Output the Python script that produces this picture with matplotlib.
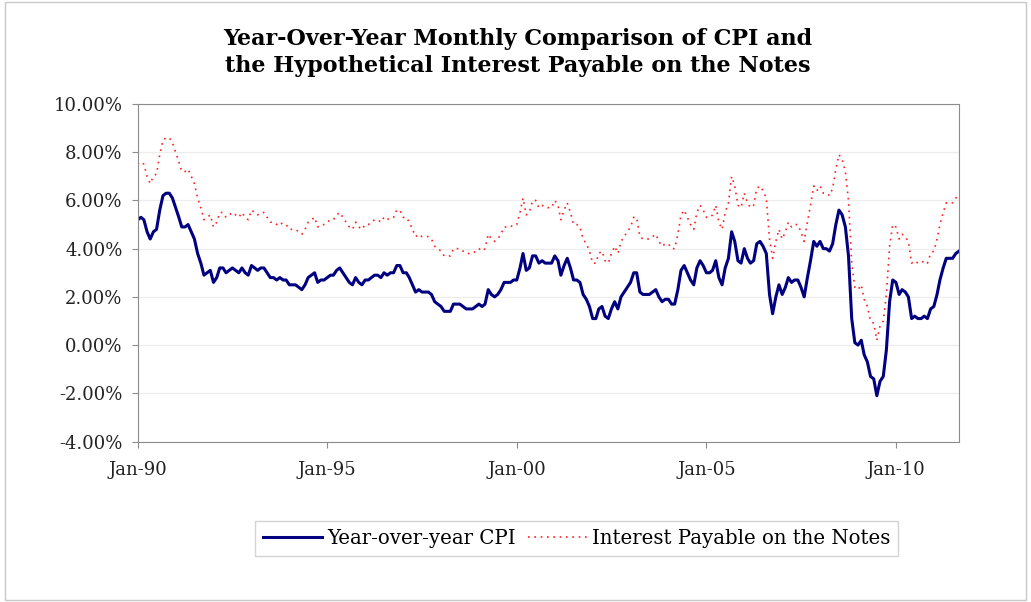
import pandas as pd
import matplotlib.pyplot as plt
from matplotlib.ticker import FuncFormatter, MultipleLocator
from matplotlib.patches import Rectangle

# year-over-year CPI (%), monthly from Jan 1990
cpi = [
    5.2, 5.3, 5.2, 4.7, 4.4, 4.7, 4.8, 5.6, 6.2, 6.3, 6.3, 6.1,   # 1990
    5.7, 5.3, 4.9, 4.9, 5.0, 4.7, 4.4, 3.8, 3.4, 2.9, 3.0, 3.1,   # 1991
    2.6, 2.8, 3.2, 3.2, 3.0, 3.1, 3.2, 3.1, 3.0, 3.2, 3.0, 2.9,   # 1992
    3.3, 3.2, 3.1, 3.2, 3.2, 3.0, 2.8, 2.8, 2.7, 2.8, 2.7, 2.7,   # 1993
    2.5, 2.5, 2.5, 2.4, 2.3, 2.5, 2.8, 2.9, 3.0, 2.6, 2.7, 2.7,   # 1994
    2.8, 2.9, 2.9, 3.1, 3.2, 3.0, 2.8, 2.6, 2.5, 2.8, 2.6, 2.5,   # 1995
    2.7, 2.7, 2.8, 2.9, 2.9, 2.8, 3.0, 2.9, 3.0, 3.0, 3.3, 3.3,   # 1996
    3.0, 3.0, 2.8, 2.5, 2.2, 2.3, 2.2, 2.2, 2.2, 2.1, 1.8, 1.7,   # 1997
    1.6, 1.4, 1.4, 1.4, 1.7, 1.7, 1.7, 1.6, 1.5, 1.5, 1.5, 1.6,   # 1998
    1.7, 1.6, 1.7, 2.3, 2.1, 2.0, 2.1, 2.3, 2.6, 2.6, 2.6, 2.7,   # 1999
    2.7, 3.2, 3.8, 3.1, 3.2, 3.7, 3.7, 3.4, 3.5, 3.4, 3.4, 3.4,   # 2000
    3.7, 3.5, 2.9, 3.3, 3.6, 3.2, 2.7, 2.7, 2.6, 2.1, 1.9, 1.6,   # 2001
    1.1, 1.1, 1.5, 1.6, 1.2, 1.1, 1.5, 1.8, 1.5, 2.0, 2.2, 2.4,   # 2002
    2.6, 3.0, 3.0, 2.2, 2.1, 2.1, 2.1, 2.2, 2.3, 2.0, 1.8, 1.9,   # 2003
    1.9, 1.7, 1.7, 2.3, 3.1, 3.3, 3.0, 2.7, 2.5, 3.2, 3.5, 3.3,   # 2004
    3.0, 3.0, 3.1, 3.5, 2.8, 2.5, 3.2, 3.6, 4.7, 4.3, 3.5, 3.4,   # 2005
    4.0, 3.6, 3.4, 3.5, 4.2, 4.3, 4.1, 3.8, 2.1, 1.3, 2.0, 2.5,   # 2006
    2.1, 2.4, 2.8, 2.6, 2.7, 2.7, 2.4, 2.0, 2.8, 3.5, 4.3, 4.1,   # 2007
    4.3, 4.0, 4.0, 3.9, 4.2, 5.0, 5.6, 5.4, 4.9, 3.7, 1.1, 0.1,   # 2008
    0.0, 0.2, -0.4, -0.7, -1.3, -1.4, -2.1, -1.5, -1.3, -0.2, 1.8, 2.7,  # 2009
    2.6, 2.1, 2.3, 2.2, 2.0, 1.1, 1.2, 1.1, 1.1, 1.2, 1.1, 1.5,   # 2010
    1.6, 2.1, 2.7, 3.2, 3.6, 3.6, 3.6, 3.8, 3.9,                  # 2011
]

# hypothetical interest payable on the notes (%)
notes = [
    7.5, 7.6, 7.5, 7.0, 6.7, 7.0, 7.1, 7.9, 8.5, 8.6, 8.6, 8.4,
    8.0, 7.6, 7.2, 7.2, 7.3, 7.0, 6.7, 6.1, 5.7, 5.2, 5.3, 5.4,
    4.9, 5.1, 5.5, 5.5, 5.3, 5.4, 5.5, 5.4, 5.3, 5.5, 5.3, 5.2,
    5.6, 5.5, 5.4, 5.5, 5.5, 5.3, 5.1, 5.1, 5.0, 5.1, 5.0, 5.0,
    4.8, 4.8, 4.8, 4.7, 4.6, 4.8, 5.1, 5.2, 5.3, 4.9, 5.0, 5.0,
    5.1, 5.2, 5.2, 5.4, 5.5, 5.3, 5.1, 4.9, 4.8, 5.1, 4.9, 4.8,
    5.0, 5.0, 5.1, 5.2, 5.2, 5.1, 5.3, 5.2, 5.3, 5.3, 5.6, 5.6,
    5.3, 5.3, 5.1, 4.8, 4.5, 4.6, 4.5, 4.5, 4.5, 4.4, 4.1, 4.0,
    3.9, 3.7, 3.7, 3.7, 4.0, 4.0, 4.0, 3.9, 3.8, 3.8, 3.8, 3.9,
    4.0, 3.9, 4.0, 4.6, 4.4, 4.3, 4.4, 4.6, 4.9, 4.9, 4.9, 5.0,
    5.0, 5.5, 6.1, 5.4, 5.5, 6.0, 6.0, 5.7, 5.8, 5.7, 5.7, 5.7,
    6.0, 5.8, 5.2, 5.6, 5.9, 5.5, 5.0, 5.0, 4.9, 4.4, 4.2, 3.9,
    3.4, 3.4, 3.8, 3.9, 3.5, 3.4, 3.8, 4.1, 3.8, 4.3, 4.5, 4.7,
    4.9, 5.3, 5.3, 4.5, 4.4, 4.4, 4.4, 4.5, 4.6, 4.3, 4.1, 4.2,
    4.2, 4.0, 4.0, 4.6, 5.4, 5.6, 5.3, 5.0, 4.8, 5.5, 5.8, 5.6,
    5.3, 5.3, 5.4, 5.8, 5.1, 4.8, 5.5, 5.9, 7.0, 6.6, 5.8, 5.7,
    6.3, 5.9, 5.7, 5.8, 6.5, 6.6, 6.4, 6.1, 4.4, 3.6, 4.3, 4.8,
    4.4, 4.7, 5.1, 4.9, 5.0, 5.0, 4.7, 4.3, 5.1, 5.8, 6.6, 6.4,
    6.6, 6.3, 6.3, 6.2, 6.5, 7.3, 7.9, 7.7, 7.2, 6.0, 3.4, 2.4,
    2.3, 2.5, 1.9, 1.6, 1.0, 0.9, 0.2, 0.8, 1.0, 2.1, 4.1, 5.0,
    4.9, 4.4, 4.6, 4.5, 4.3, 3.4, 3.5, 3.4, 3.4, 3.5, 3.4, 3.8,
    3.9, 4.4, 5.0, 5.5, 5.9, 5.9, 5.9, 6.1, 6.2,
]

dates = pd.date_range("1990-01-01", periods=len(cpi), freq="MS")
tick_dates = pd.to_datetime(["1990-01-01", "1995-01-01", "2000-01-01", "2005-01-01", "2010-01-01"])

serif = "DejaVu Serif"

fig = plt.figure(figsize=(10.31, 6.02), dpi=100)
fig.patches.append(Rectangle((0.005, 0.004), 0.99, 0.992, transform=fig.transFigure,
                             fill=False, edgecolor="#c8c8c8", lw=1))

ax = fig.add_axes([0.1336, 0.2666, 0.7966, 0.5606])
ax.plot(dates, cpi, color="#000080", lw=2.2, label="Year-over-year CPI")
ax.plot(dates, notes, color="#ff2020", lw=1.2, linestyle=(0, (1, 2.8)),
        label="Interest Payable on the Notes")

ax.set_ylim(-4, 10)
ax.set_xlim(dates[0], dates[-1])
ax.yaxis.set_major_locator(MultipleLocator(2))
ax.yaxis.set_major_formatter(FuncFormatter(lambda v, p: f"{v:.2f}%"))
ax.set_xticks(tick_dates)
ax.set_xticklabels([d.strftime("%b-%y") for d in tick_dates])
ax.grid(axis="y", color="#ececec", lw=0.8)
ax.set_axisbelow(True)
for s in ax.spines.values():
    s.set_color("#8c8c8c")
ax.tick_params(axis="both", colors="#8c8c8c", length=4, labelcolor="#222222")
ax.tick_params(axis="x", pad=10)
ax.tick_params(axis="y", pad=7)
for lab in ax.get_xticklabels() + ax.get_yticklabels():
    lab.set_fontfamily(serif)
    lab.set_fontsize(13)

fig.text(0.502, 0.913, "Year-Over-Year Monthly Comparison of CPI and\nthe Hypothetical Interest Payable on the Notes",
         ha="center", va="center", fontfamily=serif, fontweight="bold", fontsize=16,
         linespacing=1.3)

leg = fig.legend(loc="center", bbox_to_anchor=(0.5594, 0.105), ncol=2, frameon=True,
                 prop={"family": serif, "size": 14.2}, handlelength=3.0, handletextpad=0.25,
                 columnspacing=0.6, fancybox=False, borderpad=0.4)
leg.get_frame().set_edgecolor("#c8c8c8")
leg.get_frame().set_linewidth(1)

fig.savefig("out.png", dpi=100)
